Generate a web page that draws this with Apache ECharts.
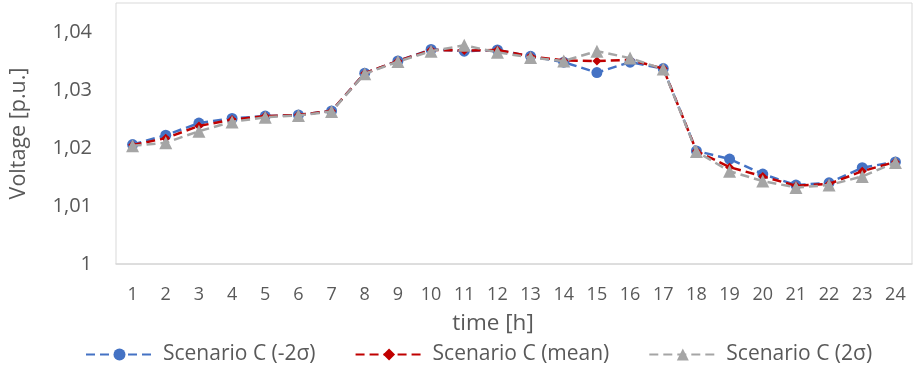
<!DOCTYPE html>
<html>
<head>
<meta charset="utf-8">
<script src="https://cdn.jsdelivr.net/npm/echarts@6/dist/echarts.min.js"></script>
<style>html,body{margin:0;padding:0;background:#fff}#c{width:918px;height:367px}</style>
</head>
<body>
<div id="c"></div>
<script>
const hours = ['1','2','3','4','5','6','7','8','9','10','11','12','13','14','15','16','17','18','19','20','21','22','23','24'];
const seriesNames = ['Scenario C (-2σ)', 'Scenario C (mean)', 'Scenario C (2σ)'];
const minus2sigma = [1.0206,1.0222,1.0243,1.0251,1.0255,1.0257,1.0264,1.0329,1.0350,1.0370,1.0367,1.0369,1.0358,1.0348,1.0330,1.0348,1.0337,1.0195,1.0181,1.0155,1.0136,1.0140,1.0166,1.0176];
const meanVals    = [1.0205,1.0217,1.0238,1.0249,1.0255,1.0257,1.0264,1.0329,1.0350,1.0369,1.0368,1.0369,1.0358,1.0351,1.0350,1.0352,1.0337,1.0195,1.0167,1.0151,1.0135,1.0138,1.0160,1.0176];
const plus2sigma  = [1.0204,1.0209,1.0229,1.0245,1.0253,1.0256,1.0263,1.0328,1.0349,1.0367,1.0377,1.0365,1.0356,1.0350,1.0367,1.0355,1.0336,1.0194,1.0160,1.0143,1.0132,1.0136,1.0151,1.0175];
const yTicks = [1, 1.01, 1.02, 1.03, 1.04];

const colors = ['#4472C4', '#C00000', '#A5A5A5'];
const symbols = ['circle', 'diamond', 'triangle'];
const sizes = [11, 9, 13];
const dataSets = [minus2sigma, meanVals, plus2sigma];
const font = 'Open Sans';

const chart = echarts.init(document.getElementById('c'), null, {renderer: 'canvas'});
chart.setOption({
  animation: false,
  color: colors,
  grid: {left: 116, right: 6, top: 3, bottom: 103, show: true, borderColor: '#D9D9D9', borderWidth: 1},
  legend: {
    top: 339, left: 80, itemWidth: 67, itemHeight: 15, itemGap: 39,
    textStyle: {color: '#595959', fontSize: 21, fontFamily: font, padding: [0, 0, 0, 5]},
    data: seriesNames
  },
  xAxis: {
    type: 'category', data: hours, boundaryGap: true,
    name: 'time [h]', nameLocation: 'middle', nameGap: 48,
    nameTextStyle: {color: '#595959', fontSize: 22.5, fontFamily: font, padding: [0, 42, 0, 0]},
    axisLine: {show: true, lineStyle: {color: '#D9D9D9', width: 1.5}},
    axisTick: {show: false},
    axisLabel: {color: '#595959', fontSize: 18, fontFamily: font, margin: 22, interval: 0}
  },
  yAxis: {
    type: 'value', min: 1, max: 1.045, interval: 0.01,
    name: 'Voltage [p.u.]', nameLocation: 'middle', nameGap: 86,
    nameTextStyle: {color: '#595959', fontSize: 21.5, fontFamily: font},
    axisLine: {show: false}, axisTick: {show: false}, splitLine: {show: false},
    axisLabel: {
      color: '#595959', fontSize: 20, fontFamily: font, margin: 24, showMaxLabel: false,
      formatter: v => yTicks.some(t => Math.abs(t - v) < 1e-9) ? String(+v.toFixed(2)).replace('.', ',') : ''
    }
  },
  series: dataSets.map((d, i) => ({
    name: seriesNames[i], type: 'line', data: d,
    symbol: symbols[i], symbolSize: sizes[i], showSymbol: true,
    lineStyle: {color: colors[i], width: 2.5, type: [9, 5]},
    itemStyle: {color: colors[i]},
    z: 2 + i
  }))
});
</script>
</body>
</html>
